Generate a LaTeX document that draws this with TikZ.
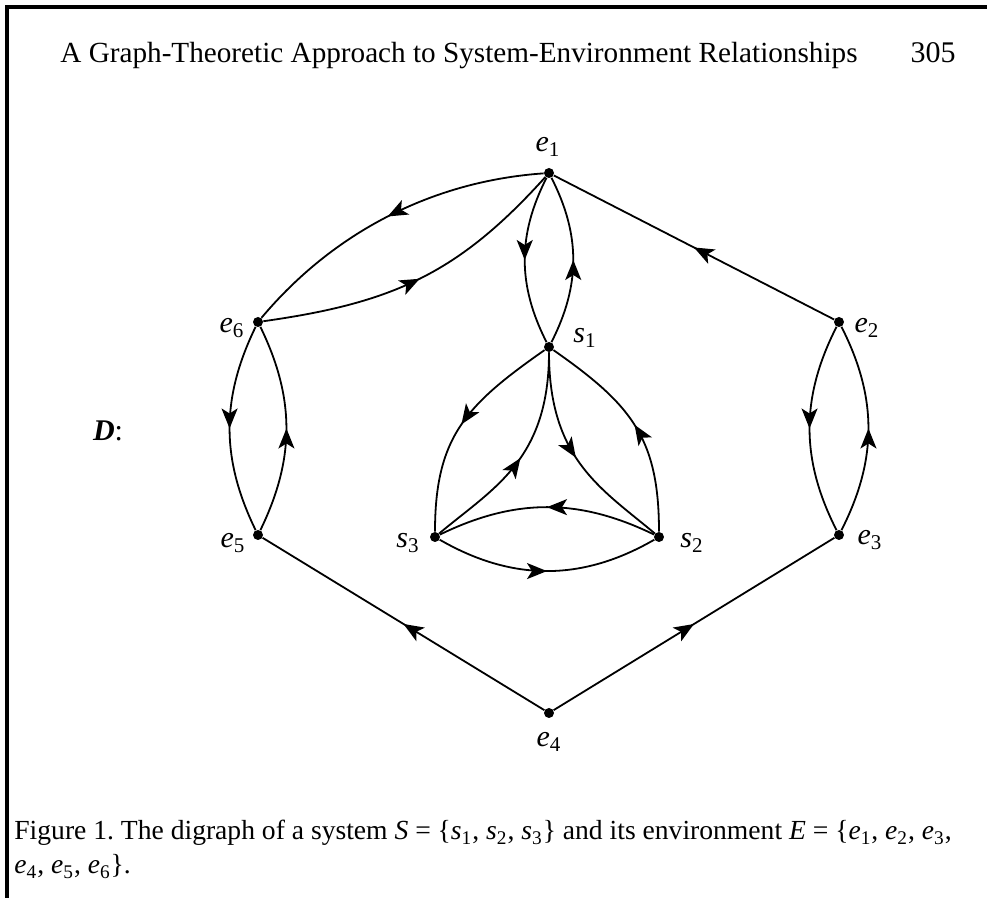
\documentclass[tikz,border=0pt]{standalone}
\usepackage{fontspec}
\setmainfont{Liberation Serif}
\usetikzlibrary{arrows.meta,decorations.markings}
\newcommand\vv[2]{\textit{#1}\textsubscript{#2}}
\begin{document}
\frenchspacing
\begin{tikzpicture}[x=0.5pt,y=0.5pt,
  vtx/.style={circle,fill=black,inner sep=0pt,minimum size=5pt},
  lbl/.style={font=\fontsize{15}{17}\selectfont,inner sep=0pt},
  edge/.style={line width=0.9pt},
  midarrow/.style={edge,postaction={decorate},
    decoration={markings,mark=at position 0.5 with {\arrow{Stealth[length=10pt,width=8pt,inset=2.5pt]}}}},
  txt/.style={inner sep=0pt,anchor=base west}]
\useasboundingbox (0,0) rectangle (987,898);
% frame
\draw[line width=1.8pt] (7,0) -- (7,891) -- (987,891);
% header
\node[txt,font=\fontsize{14.6}{18}\selectfont] (title) at (60,835) {A Graph-Theoretic Approach to System-Environment Relationships};
\node[inner sep=0pt,anchor=base east,font=\fontsize{15}{18}\selectfont] (page) at (956,835) {305};
% vertices
\node[vtx] (e1) at (549,725) {};
\node[vtx] (e2) at (839,576) {};
\node[vtx] (e3) at (839,363) {};
\node[vtx] (e4) at (549,185) {};
\node[vtx] (e5) at (258,363) {};
\node[vtx] (e6) at (258,576) {};
\node[vtx] (s1) at (549,551) {};
\node[vtx] (s2) at (659,361) {};
\node[vtx] (s3) at (435,361) {};
% labels
\node[lbl] (le1) at (548,751) {\vv{e}{1}};
\node[lbl] (le2) at (867,570) {\vv{e}{2}};
\node[lbl] (le3) at (870,358) {\vv{e}{3}};
\node[lbl] (le4) at (549,156) {\vv{e}{4}};
\node[lbl] (le5) at (233,355) {\vv{e}{5}};
\node[lbl] (le6) at (232,570) {\vv{e}{6}};
\node[lbl] (ls1) at (585,560) {\vv{s}{1}};
\node[lbl] (ls2) at (692,355) {\vv{s}{2}};
\node[lbl] (ls3) at (408,355) {\vv{s}{3}};
\node[lbl] (D) at (108,467) {\textit{\textbf{D}}:};
% environment edges
\draw[midarrow] (e2) -- (e1);
\draw[midarrow] (e4) -- (e5);
\draw[midarrow] (e4) -- (e3);
\draw[midarrow] (e1) to[out=184,in=50,looseness=0.9] (e6);
\draw[midarrow] (e6) to[out=8,in=228,looseness=1.05] (e1);
\draw[midarrow] (e6) to[bend right=26] (e5);
\draw[midarrow] (e5) to[bend right=26] (e6);
\draw[midarrow] (e2) to[bend right=27] (e3);
\draw[midarrow] (e3) to[bend right=27] (e2);
\draw[midarrow] (e1) to[bend right=27] (s1);
\draw[midarrow] (s1) to[bend right=27] (e1);
% system edges
\draw[midarrow] (s1) to[out=215,in=90,looseness=1.15] (s3);
\draw[midarrow] (s3) to[out=40,in=270,out looseness=0.85,in looseness=1.3] (s1);
\draw[midarrow] (s2) to[out=90,in=-35,looseness=1.15] (s1);
\draw[midarrow] (s1) to[out=270,in=140,out looseness=1.3,in looseness=0.85] (s2);
\draw[midarrow] (s2) to[bend right=26] (s3);
\draw[midarrow] (s3) to[bend right=30] (s2);
% caption
\node[txt,font=\fontsize{13.8}{16}\selectfont] (cap1) at (14,58) {Figure 1. The digraph of a system \textit{S} = \{\vv{s}{1}, \vv{s}{2}, \vv{s}{3}\} and its environment \textit{E} = \{\vv{e}{1}, \vv{e}{2}, \vv{e}{3},};
\node[txt,font=\fontsize{13.8}{16}\selectfont] (cap2) at (14,24) {\vv{e}{4}, \vv{e}{5}, \vv{e}{6}\}.};
\end{tikzpicture}
\end{document}
